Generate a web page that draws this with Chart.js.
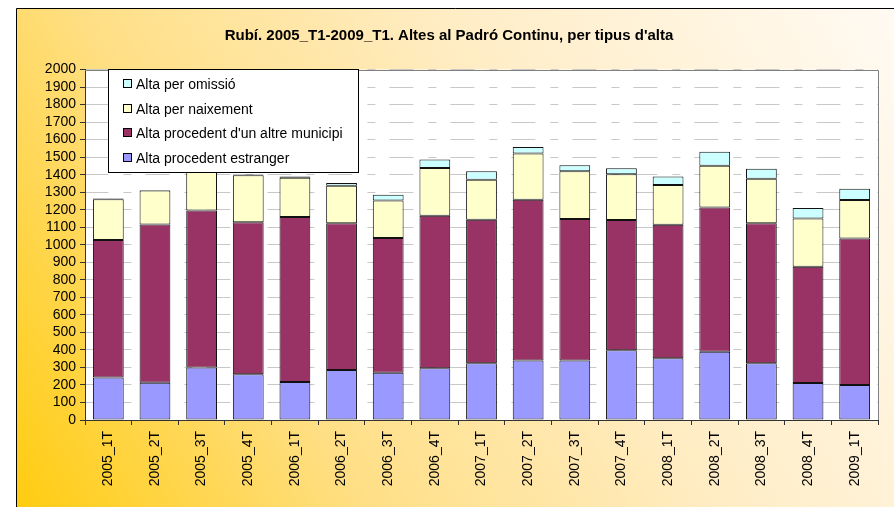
<!DOCTYPE html>
<html>
<head>
<meta charset="utf-8">
<title>Rubí - Altes al Padró Continu</title>
<script src="https://cdn.jsdelivr.net/npm/chart.js@4.4.0/dist/chart.umd.min.js"></script>
<style>
  html, body { margin: 0; padding: 0; background: #fff; }
  canvas { display: block; }
</style>
</head>
<body>
<canvas id="altesChart" width="894" height="507"></canvas>
<script>
// quarters on the x axis
const quarters = ['2005_1T', '2005_2T', '2005_3T', '2005_4T', '2006_1T', '2006_2T', '2006_3T', '2006_4T',
    '2007_1T', '2007_2T', '2007_3T', '2007_4T', '2008_1T', '2008_2T', '2008_3T', '2008_4T', '2009_1T'];

// values (segment heights, stacked bottom to top)
const estranger = [242, 213, 299, 261, 217, 286, 270, 295, 324, 339, 340, 398, 352, 390, 324, 211, 200];
const altreMunicipi = [785, 903, 897, 867, 941, 836, 768, 871, 819, 918, 807, 743, 762, 823, 798, 663, 836];
const naixement = [233, 194, 249, 268, 224, 215, 215, 272, 228, 263, 272, 261, 227, 238, 255, 276, 219];
const omissio = [4, 3, 25, 5, 8, 15, 33, 48, 48, 38, 34, 34, 49, 79, 57, 60, 65];

const yMin = 0;
const yMax = 2000;
const yStep = 100;

const FONT = 'Arial, "Liberation Sans", sans-serif';
Chart.defaults.font.family = FONT;
Chart.defaults.color = '#000';

// gradient background, outer frame and white plot area
const frame = {
    id: 'frame',
    beforeDraw(chart) {
        const {ctx, width, height, chartArea: a} = chart;
        ctx.save();
        const g = ctx.createLinearGradient(16, height, width, 8);
        g.addColorStop(0, '#ffcc10');
        g.addColorStop(0.3, '#ffdf85');
        g.addColorStop(0.62, '#ffedc6');
        g.addColorStop(1, '#fffaf3');
        ctx.fillStyle = g;
        ctx.fillRect(16, 8, width - 16, height - 8);
        ctx.strokeStyle = '#000';
        ctx.lineWidth = 1;
        ctx.beginPath();
        ctx.moveTo(16.5, height);
        ctx.lineTo(16.5, 8.5);
        ctx.lineTo(width, 8.5);
        ctx.stroke();
        ctx.fillStyle = '#fff';
        ctx.fillRect(a.left, a.top, a.right - a.left, a.bottom - a.top);
        ctx.restore();
    },
    beforeDatasetsDraw(chart) {
        const {ctx, chartArea: a} = chart;
        ctx.save();
        ctx.strokeStyle = '#808080';
        ctx.lineWidth = 1;
        ctx.beginPath();
        ctx.moveTo(Math.round(a.left), Math.round(a.top) + 0.5);
        ctx.lineTo(Math.round(a.right) + 0.5, Math.round(a.top) + 0.5);
        ctx.lineTo(Math.round(a.right) + 0.5, a.bottom);
        ctx.stroke();
        ctx.restore();
    }
};

// boxed legend over the top-left of the plot, reversed order
const boxLegend = {
    id: 'boxLegend',
    afterDraw(chart) {
        const {ctx} = chart;
        const x = 108.5, y = 69.5, w = 250, h = 103;
        ctx.save();
        ctx.fillStyle = '#fff';
        ctx.fillRect(x, y, w, h);
        ctx.strokeStyle = '#000';
        ctx.lineWidth = 1;
        ctx.strokeRect(x, y, w, h);
        const sets = chart.data.datasets.slice().reverse();
        ctx.font = '14px ' + FONT;
        ctx.textBaseline = 'middle';
        sets.forEach((ds, i) => {
            const cy = 84 + i * 24.7;
            ctx.fillStyle = ds.backgroundColor;
            ctx.fillRect(123.5, Math.round(cy) - 4.5, 8, 8);
            ctx.strokeStyle = '#000';
            ctx.strokeRect(123.5, Math.round(cy) - 4.5, 8, 8);
            ctx.fillStyle = '#000';
            ctx.fillText(ds.label, 136, cy + 1);
        });
        ctx.restore();
    }
};

const barStyle = {
    borderColor: '#111',
    borderWidth: 1,
    borderSkipped: false,
    barPercentage: 0.66,
    categoryPercentage: 1.0
};

new Chart(document.getElementById('altesChart'), {
    type: 'bar',
    data: {
        labels: quarters,
        datasets: [
            { label: 'Alta procedent estranger', data: estranger, backgroundColor: '#9999ff', ...barStyle },
            { label: "Alta procedent d'un altre municipi", data: altreMunicipi, backgroundColor: '#993366', ...barStyle },
            { label: 'Alta per naixement', data: naixement, backgroundColor: '#ffffcc', ...barStyle },
            { label: 'Alta per omissió', data: omissio, backgroundColor: '#ccffff', ...barStyle }
        ]
    },
    options: {
        responsive: false,
        animation: false,
        layout: { padding: { left: 20, right: 16, top: 0, bottom: 0 } },
        plugins: {
            legend: { display: false },
            tooltip: { enabled: false },
            title: {
                display: true,
                text: "Rubí. 2005_T1-2009_T1. Altes al Padró Continu, per tipus d'alta",
                color: '#000',
                font: { size: 15, weight: 'bold', family: FONT },
                padding: { top: 27, bottom: 24.5 }
            }
        },
        scales: {
            x: {
                stacked: true,
                ticks: { color: '#000', font: { size: 14 }, maxRotation: 90, minRotation: 90, autoSkip: false, padding: 6 },
                grid: { drawOnChartArea: false, tickColor: '#333', tickLength: 5 },
                border: { display: true, color: '#333' },
                afterFit(s) { s.height = 87; }
            },
            y: {
                stacked: true,
                min: yMin,
                max: yMax,
                ticks: {
                    stepSize: yStep, autoSkip: false, color: '#000', font: { size: 14 }, padding: 4,
                    callback: (v) => String(v)
                },
                grid: { color: '#c8c8c8', tickColor: '#333', tickLength: 5 },
                border: { display: true, color: '#333', dash: [8, 14, 24, 15], dashOffset: 23.6 },
                afterFit(s) { s.width = 65; }
            }
        }
    },
    plugins: [frame, boxLegend]
});
</script>
</body>
</html>
